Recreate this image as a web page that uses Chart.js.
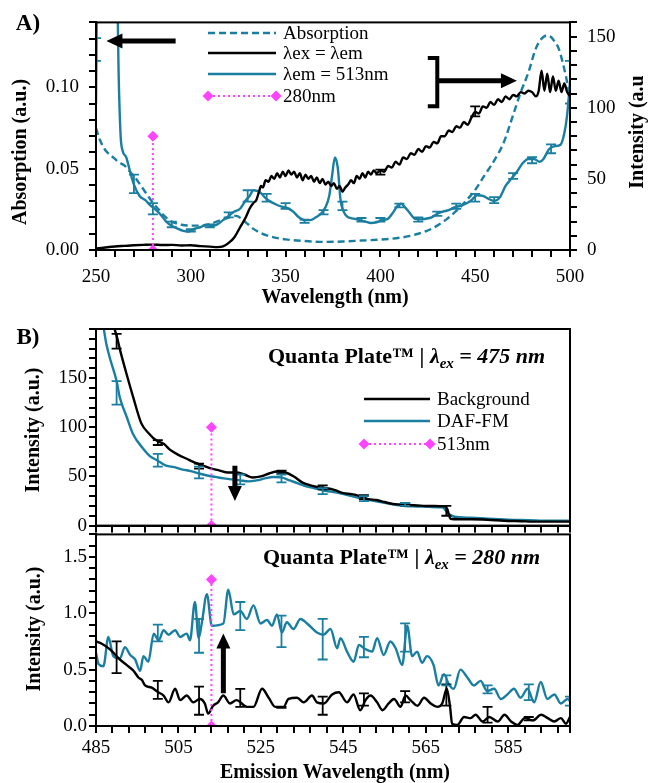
<!DOCTYPE html>
<html>
<head>
<meta charset="utf-8">
<script src="https://cdn.jsdelivr.net/npm/chart.js@4.4.0/dist/chart.umd.min.js"></script>
<style>
  body { margin: 0; background: #fff; width: 649px; height: 783px; position: relative; overflow: hidden; }
  canvas { position: absolute; left: 0; }
</style>
</head>
<body>
<canvas id="chartA" width="649" height="310" style="top:0"></canvas>
<canvas id="chartB1" width="649" height="230" style="top:310px"></canvas>
<canvas id="chartB2" width="649" height="263" style="top:520px"></canvas>
<script>
// ---- Panel A: absorption + excitation scans ----
const absWl = [250,252,254,256,258,260,262,265,268,271,274,277,280,283,286,289,292,295,300,305,310,315,320,324,327,330,333,336,340,345,350,360,370,380,390,400,410,415,420,425,430,435,440,445,450,455,460,465,470,474,478,482,485,488,490,492,494,496,498,500];
const absVal = [0.075,0.068,0.063,0.060,0.058,0.056,0.054,0.052,0.048,0.044,0.039,0.034,0.029,0.025,0.021,0.018,0.0165,0.0155,0.015,0.015,0.016,0.018,0.020,0.021,0.019,0.016,0.013,0.011,0.009,0.0075,0.0065,0.0055,0.005,0.0052,0.0058,0.0064,0.0075,0.0085,0.010,0.012,0.015,0.019,0.024,0.030,0.037,0.046,0.055,0.066,0.083,0.097,0.109,0.124,0.130,0.132,0.131,0.128,0.124,0.116,0.106,0.094];

const exemWl = [250,255,260,265,270,275,280,285,290,295,300,305,310,314,317,320,323,326,329,331,333,334.5,336,337,338,339.5,341,342.5,344,345.5,347,348.5,350,351.5,353,354.5,356,357.5,359,360.5,362,363.5,365,366.5,368,369.5,371,372.5,374,375.5,377,378.5,380,381.5,383,384.5,386,387.5,389,390.5,392,393.5,395,396.5,398,400,402,404,406,408,410,412,414,416,418,420,422,424,426,428,430,432,434,436,438,440,442,444,446,448,450,452,454,456,458,460,462,464,466,468,470,472,474,476,478,480,482,483.5,485,486.5,488,489.5,491,492.5,494,495.5,497,498.5,500];
const exemVal = [1.0,1.8,2.5,2.9,3.3,3.6,3.8,3.5,3.6,3.2,3.3,2.7,2.4,2.0,2.5,5,9,16,23,29,33,35,41,45,44,49,48,52,50,54,51,55,52,56,53,55,51,54,49,53,50,52,48,51,47,50,46,48,45,47,43,45,41,44,46,49,47,52,50,54,51,55,53,56,54,56,55,59,58,62,60,65,64,68,67,71,69,73,72,76,75,80,80,84,83,87,86,90,88,93,97,96,101,100,104,102,106,104,108,106,109,108,111,110,112,111,108,112,126,112,124,111,122,112,119,111,117,111,108];
const exemErrWl = [400, 450];
const exemErrLo = [53, 94];
const exemErrHi = [56.5, 101];

const em513Wl = [250,250.6,261.2,262,263,264,266,268,270,273,276,279,281,284,287,290,293,296,299,302,305,308,311,314,317,320,323,326,329,331,333,335,337,339,342,345,348,351,354,357,360,363,366,369,371,373,374.5,376,377.5,379,381,383,386,389,392,395,398,401,404,407,409,411,413,415.5,418,421,424,427,430,433,436,439,442,445,448,451,454,457,460,463,466,469,472,475,478,481,484,486,489,492,495,497,498.5,500];
const em513Val = [103,175,175,120,80,70,65,55,46,38,35,31,29,25,20,17,15,13.5,13,15,16,17.5,17,18,21,24,27,29,35,38,42,41.5,40,37,34,32,30.5,29.5,27,23,21,21,23,26,30,38,52,65,58,35,26,23,22,21,20,19,19.5,21,22,27,31,32.5,30,26,22,21.5,22,23,25.5,27,28,30,31,32.5,35,38.5,38,36,34.5,37,45,50,55,61,64,64,62,64,71,73,74,82,95,118];
const em513ErrWl = [250,270,280,290,300,310,320,330,340,350,360,370,380,390,400,410,420,430,440,450,460,470,480,490,500];
const em513ErrLo = [133,40,25,16,13,16,23,34,34,29,19,25,28,20,20,30,20,24,29,34,33,50,61,68,103];
const em513ErrHi = [149,53,33,20,14.6,18,26.4,42,39.4,33,21.4,28,34,22.5,22.5,32.6,23,27,32.6,39.4,37.2,54,65.3,74.3,133];

const mark280Wl = [280, 280];
const mark280Val = [0, 0.07];

const aXLabels = [250, 300, 350, 400, 450, 500];
const aYLeftLabels = [0, 0.05, 0.10];
const aYRightLabels = [0, 50, 100, 150];

// ---- Panel B (top): excitation 475 nm ----
const bgTopWl = [485,488.5,489.5,490,491,492.5,494,496,498,499.5,501.5,503,505,507,509,511,513,515,517,519,521,523,525,527,529,531,533,535,537,539,541,543,545,547,549,551,553,555,557,559,561,563,565,567,569.5,570.2,571,573,576,580,584,588,592,596,600];
const bgTopVal = [320,215,200,193,176,153,131,104,93,87,83,77,72,68,64,61,58,56,54,54,52,49,50,53,55,54,50,44,41,39,38,36,33,32,30,27,26,24,22,21.5,21,20.5,20,20,19.5,17,7,6.5,6.5,6,5,4.5,4,4,4];
const bgTopErrWl = [490,500,510,530,540,550,560,570];
const bgTopErrLo = [180,82,58,53,37,27,20,10];
const bgTopErrHi = [195,87,63,56,41,31,23,20];

const dafTopWl = [485,486.8,487.5,488.4,490,490.8,492.5,494,496.5,498,500,502,504,506,508,510,512,514,516,518,520,522,524,526,528,530,532,534,536,538,540,542,544,546,548,550,552,554,556,558,560,563,566,569,570.5,572,576,580,585,590,595,600];
const dafTopVal = [260,203,185,170,147,130,110,93,78,71,66,61,59.5,57,55.5,53,51,49.5,48,47,46,45,46,48,49.5,49,46,43,40,38,36,34.5,33,31,29,27,25.5,24,22.5,21,20,19.5,19,18.5,12,9,8,7,6,5.5,5,5];
const dafTopErrWl = [490,500,510,520,530,540,550,560];
const dafTopErrLo = [123,60,48,42,44,32,25,20];
const dafTopErrHi = [147,73,60,52,52,38,30,23];

const mark513TopWl = [513, 513];
const mark513TopVal = [0, 100];

// ---- Panel B (bottom): excitation 280 nm ----
const dafBotWl = [485,485.6,486.8,488,489.2,490.8,492,493.3,494.5,495.7,496.5,497.7,499,500.2,501.4,502.6,504.2,505.4,507,507.8,509,509.9,510.7,511.9,513.1,515.9,517.1,518.4,520,521.6,523.2,524.9,526.5,527.7,528.9,530.1,531.3,532.9,534.6,536.2,538.6,540.2,541.9,543.5,544.3,545.9,547.5,548.8,550,552,553.2,554.8,556.4,557.7,559.3,560.5,561.7,562.9,564.1,565.3,566.9,568.1,569.4,570.6,571.8,573.4,575.1,576.7,578.3,579.9,581.6,583.2,584.8,586.4,588,589.7,591.3,592.9,594.5,596.2,597.8,599.4,600];
const dafBotVal = [0.65,0.55,0.53,0.79,0.62,0.60,0.70,0.63,0.59,0.49,0.62,0.57,0.82,0.76,0.85,0.81,0.85,0.79,0.82,0.76,1.10,0.78,0.92,1.17,0.89,0.91,1.21,0.99,1.02,0.95,1.07,0.91,0.94,0.89,0.99,0.83,0.92,0.86,0.95,0.91,0.83,0.81,0.86,0.69,0.78,0.66,0.57,0.72,0.69,0.66,0.78,0.63,0.75,0.69,0.54,0.89,0.62,0.66,0.56,0.62,0.54,0.36,0.46,0.37,0.33,0.50,0.43,0.36,0.40,0.31,0.33,0.24,0.28,0.33,0.25,0.33,0.21,0.39,0.24,0.28,0.20,0.24,0.22];
const dafBotErrWl = [500,510,520,530,540,550,560,570,580,590,600];
const dafBotErrLo = [0.75,0.65,0.85,0.70,0.59,0.61,0.66,0.36,0.29,0.23,0.18];
const dafBotErrHi = [0.90,0.95,1.10,0.98,0.95,0.79,0.91,0.45,0.36,0.37,0.26];

const bgBotWl = [485,486.4,488.4,490.8,492.5,494.1,495.3,496.1,496.9,498.5,500.1,501.4,502.6,504.2,505.4,507,508.6,510.2,511.4,512.2,513.4,514.6,515.9,517.5,519.1,521.6,523.2,525.3,526.9,528.5,530.5,531.7,533.8,535.4,537.4,538.6,540.3,542.3,543.9,545.9,547.5,549.1,550.4,551.6,553.2,554.5,556,557.3,558.9,560.1,561.3,563,564.6,566.2,567.8,569,570.1,570.9,571.4,572.7,574.3,575.9,577.1,578.8,580.4,582.5,584.1,585.7,587.3,589,591,593,594.6,596.2,597.8,599,600];
const bgBotVal = [0.75,0.73,0.68,0.59,0.54,0.49,0.43,0.41,0.36,0.34,0.30,0.27,0.21,0.33,0.23,0.27,0.21,0.24,0.20,0.11,0.18,0.21,0.27,0.20,0.23,0.17,0.17,0.33,0.25,0.17,0.17,0.24,0.25,0.21,0.27,0.21,0.20,0.28,0.30,0.21,0.28,0.14,0.23,0.27,0.21,0.14,0.20,0.24,0.17,0.27,0.23,0.18,0.25,0.20,0.17,0.20,0.33,0.17,0.02,0.01,0.08,0.07,0.10,0.04,0.08,0.04,0.10,0.04,0.01,0.07,0.05,0.10,0.07,0.04,0.07,0.02,0.08];
const bgBotErrWl = [490,500,510,520,530,540,550,560,570,580,590];
const bgBotErrLo = [0.47,0.24,0.10,0.17,0.16,0.10,0.18,0.21,0.18,0.03,0.05];
const bgBotErrHi = [0.75,0.40,0.35,0.33,0.17,0.26,0.29,0.31,0.37,0.17,0.08];

const mark513BotWl = [513, 513];
const mark513BotVal = [0, 1.3];

const bXLabels = [485, 505, 525, 545, 565, 585];
const bTopYLabels = [0, 50, 100, 150];
const bBotYLabels = [0, 0.5, 1.0, 1.5];

// ---- styles ----
const TEAL = '#1a7ea1';
const PINK = '#ff44ff';
const FONT = '"Liberation Serif", "Times New Roman", serif';
const LINE_W = 2.4;
const TICK_LEN = 6;

Chart.defaults.font.family = FONT;
Chart.defaults.font.size = 19;
Chart.defaults.color = '#000';

const pts = (xs, ys) => xs.map((x, i) => ({ x: x, y: ys[i] }));
const near = (list, v) => list.some(l => Math.abs(l - v) < 1e-6);

function makeTicks(min, max, step) {
    const out = [];
    for (let i = 0; min + i * step <= max + 1e-9; i++) out.push(Math.round((min + i * step) * 1e6) / 1e6);
    if (out[out.length - 1] < max - 1e-9) out.push(max);
    return out;
}

// pozice značek pro každou osu (id grafu -> id osy -> hodnoty)
const tickMarks = {};

// osa s vedlejšími značkami, popisky jen u hlavních hodnot
function axis(chartId, id, position, min, max, step, labels, fmt, size, pad) {
    tickMarks[chartId] = tickMarks[chartId] || {};
    tickMarks[chartId][id] = { position: position, values: makeTicks(min, max, step) };
    return {
        type: 'linear',
        position: position,
        min: min,
        max: max,
        afterBuildTicks: s => { s.ticks = makeTicks(min, max, step).map(v => ({ value: v })); },
        afterFit: s => { if (s.isHorizontal()) s.height = size; else s.width = size; },
        ticks: {
            autoSkip: false,
            maxRotation: 0,
            padding: pad,
            callback: v => near(labels, v) ? fmt(v) : ''
        },
        grid: { display: true, drawOnChartArea: false, drawTicks: true, tickLength: TICK_LEN, color: 'rgba(0,0,0,0)' },
        border: { display: true, color: '#000', width: 2 }
    };
}

function lineSet(data, color, yAxis, extra) {
    return Object.assign({
        data: data,
        borderColor: color,
        backgroundColor: color,
        borderWidth: LINE_W,
        pointRadius: 0,
        fill: false,
        cubicInterpolationMode: 'monotone',
        yAxisID: yAxis
    }, extra || {});
}

function markerSet(data, yAxis) {
    return {
        data: data,
        borderColor: PINK,
        backgroundColor: PINK,
        borderWidth: 2,
        borderDash: [2, 3],
        pointStyle: 'rectRot',
        pointRadius: 5.5,
        pointBorderWidth: 0,
        pointBackgroundColor: PINK,
        fill: false,
        yAxisID: yAxis
    };
}

// chybové úsečky pro datasety, které mají errWl
const errorBars = {
    id: 'errorBars',
    afterDatasetsDraw(chart) {
        const ctx = chart.ctx, area = chart.chartArea;
        ctx.save();
        ctx.beginPath();
        ctx.rect(area.left, area.top - 1, area.right - area.left, area.bottom - area.top + 2);
        ctx.clip();
        chart.data.datasets.forEach(ds => {
            if (!ds.errWl) return;
            const xs = chart.scales.x, ys = chart.scales[ds.yAxisID];
            ctx.strokeStyle = ds.borderColor;
            ctx.lineWidth = 1.8;
            ds.errWl.forEach((w, i) => {
                const px = xs.getPixelForValue(w);
                const p1 = ys.getPixelForValue(ds.errLo[i]);
                const p2 = ys.getPixelForValue(ds.errHi[i]);
                ctx.beginPath();
                ctx.moveTo(px, p1); ctx.lineTo(px, p2);
                ctx.moveTo(px - 5, p1); ctx.lineTo(px + 5, p1);
                ctx.moveTo(px - 5, p2); ctx.lineTo(px + 5, p2);
                ctx.stroke();
            });
        });
        ctx.restore();
    }
};

// rámeček grafu + značky na osách směrem ven
const frame = {
    id: 'frame',
    afterDraw(chart) {
        const a = chart.chartArea, ctx = chart.ctx;
        ctx.save();
        ctx.setLineDash([]);
        ctx.strokeStyle = '#000';
        ctx.lineWidth = 2;
        ctx.strokeRect(a.left, a.top, a.right - a.left, a.bottom - a.top);
        ctx.fillStyle = '#000';
        const marks = tickMarks[chart.canvas.id];
        Object.keys(marks).forEach(id => {
            const s = chart.scales[id], m = marks[id];
            m.values.forEach(v => {
                const p = Math.round(s.getPixelForValue(v));
                if (m.position === 'bottom') ctx.fillRect(p - 1, a.bottom, 2, TICK_LEN + 1);
                else if (m.position === 'left') ctx.fillRect(a.left - TICK_LEN - 1, p - 1, TICK_LEN + 1, 2);
                else ctx.fillRect(a.right, p - 1, TICK_LEN + 1, 2);
            });
        });
        ctx.restore();
    }
};

function drawArrow(ctx, x1, y1, x2, y2, shaft, headW, headL) {
    const ang = Math.atan2(y2 - y1, x2 - x1), len = Math.hypot(x2 - x1, y2 - y1);
    ctx.save();
    ctx.translate(x1, y1);
    ctx.rotate(ang);
    ctx.fillStyle = '#000';
    ctx.beginPath();
    ctx.moveTo(0, -shaft / 2);
    ctx.lineTo(len - headL, -shaft / 2);
    ctx.lineTo(len - headL, -headW / 2);
    ctx.lineTo(len, 0);
    ctx.lineTo(len - headL, headW / 2);
    ctx.lineTo(len - headL, shaft / 2);
    ctx.lineTo(0, shaft / 2);
    ctx.closePath();
    ctx.fill();
    ctx.restore();
}

function diamond(ctx, x, y, r) {
    ctx.beginPath();
    ctx.moveTo(x, y - r); ctx.lineTo(x + r, y); ctx.lineTo(x, y + r); ctx.lineTo(x - r, y);
    ctx.closePath();
    ctx.fill();
}

function legendRow(ctx, x1, x2, y, color, dash, isMarker, text) {
    ctx.save();
    ctx.strokeStyle = color;
    ctx.lineWidth = isMarker ? 2 : LINE_W;
    ctx.setLineDash(dash);
    ctx.beginPath(); ctx.moveTo(x1, y); ctx.lineTo(x2, y); ctx.stroke();
    if (isMarker) {
        ctx.setLineDash([]);
        ctx.fillStyle = color;
        diamond(ctx, x1, y, 5.5);
        diamond(ctx, x2, y, 5.5);
    }
    ctx.fillStyle = '#000';
    ctx.font = '19px ' + FONT;
    ctx.textBaseline = 'middle';
    ctx.fillText(text, x2 + 7, y + 1);
    ctx.restore();
}

function textAt(ctx, text, x, y, font, rot, align) {
    ctx.save();
    ctx.translate(x, y);
    if (rot) ctx.rotate(rot);
    ctx.font = font;
    ctx.fillStyle = '#000';
    ctx.textAlign = align || 'center';
    ctx.textBaseline = 'middle';
    ctx.fillText(text, 0, 0);
    ctx.restore();
}

function quantaTitle(ctx, x, y, nm) {
    const parts = [
        { t: 'Quanta Plate\u2122 | ', f: 'bold 22px ' + FONT, dy: 0 },
        { t: '\u03bb', f: 'italic bold 22px ' + FONT, dy: 0 },
        { t: 'ex', f: 'italic bold 15px ' + FONT, dy: 5 },
        { t: ' = ' + nm + ' nm', f: 'italic bold 22px ' + FONT, dy: 0 }
    ];
    ctx.save();
    ctx.fillStyle = '#000';
    ctx.textBaseline = 'alphabetic';
    let cx = x;
    parts.forEach(p => {
        ctx.font = p.f;
        ctx.fillText(p.t, cx, y + p.dy);
        cx += ctx.measureText(p.t).width;
    });
    ctx.restore();
}

const baseOptions = (padding, scales) => ({
    responsive: false,
    animation: false,
    layout: { padding: padding },
    plugins: { legend: { display: false }, tooltip: { enabled: false } },
    scales: scales
});

// ---- Graf A ----
new Chart(document.getElementById('chartA'), {
    type: 'line',
    data: {
        datasets: [
            markerSet(pts(mark280Wl, mark280Val), 'yL'),
            lineSet(pts(exemWl, exemVal), '#000', 'yR', { errWl: exemErrWl, errLo: exemErrLo, errHi: exemErrHi }),
            lineSet(pts(em513Wl, em513Val), TEAL, 'yR', { errWl: em513ErrWl, errLo: em513ErrLo, errHi: em513ErrHi }),
            lineSet(pts(absWl, absVal), TEAL, 'yL', { borderDash: [7, 4] })
        ]
    },
    options: baseOptions({ top: 13, left: 0, right: 0, bottom: 0 }, {
        x: axis('chartA', 'x', 'bottom', 250, 500, 10, aXLabels, v => String(v), 60, 10),
        yL: axis('chartA', 'yL', 'left', 0, 0.14, 0.01, aYLeftLabels, v => v.toFixed(2), 96, 11),
        yR: axis('chartA', 'yR', 'right', 0, 160, 10, aYRightLabels, v => String(v), 79, 11)
    }),
    plugins: [errorBars, frame, {
        id: 'decoA',
        afterDraw(chart) {
            const ctx = chart.ctx, xs = chart.scales.x, yr = chart.scales.yR;
            textAt(ctx, 'A)', 28, 24, 'bold 23px ' + FONT);
            textAt(ctx, 'Absorption (a.u.)', 21, 152, 'bold 20px ' + FONT, -Math.PI / 2);
            textAt(ctx, 'Intensity (a.u', 638, 132, 'bold 20px ' + FONT, -Math.PI / 2);
            textAt(ctx, 'Wavelength (nm)', 335, 298, 'bold 20px ' + FONT);

            legendRow(ctx, 208, 276, 33, TEAL, [7, 4], false, 'Absorption');
            legendRow(ctx, 208, 276, 53, '#000', [], false, '\u03bbex = \u03bbem');
            legendRow(ctx, 208, 276, 74, TEAL, [], false, '\u03bbem = 513nm');
            legendRow(ctx, 208, 276, 96, PINK, [2, 3], true, '280nm');

            // šipka k levé ose
            drawArrow(ctx, xs.getPixelForValue(292), yr.getPixelForValue(147),
                      xs.getPixelForValue(255.5), yr.getPixelForValue(147), 5, 15, 16);
            // závorka a šipka k pravé ose
            ctx.save();
            ctx.strokeStyle = '#000';
            ctx.lineWidth = 4;
            ctx.beginPath();
            ctx.moveTo(xs.getPixelForValue(425), yr.getPixelForValue(135));
            ctx.lineTo(xs.getPixelForValue(430), yr.getPixelForValue(135));
            ctx.lineTo(xs.getPixelForValue(430), yr.getPixelForValue(101));
            ctx.lineTo(xs.getPixelForValue(425), yr.getPixelForValue(101));
            ctx.stroke();
            ctx.restore();
            drawArrow(ctx, xs.getPixelForValue(430), yr.getPixelForValue(119),
                      xs.getPixelForValue(472), yr.getPixelForValue(119), 5, 15, 16);
        }
    }]
});

// ---- Graf B nahoře ----
new Chart(document.getElementById('chartB1'), {
    type: 'line',
    data: {
        datasets: [
            markerSet(pts(mark513TopWl, mark513TopVal), 'y'),
            lineSet(pts(bgTopWl, bgTopVal), '#000', 'y', { errWl: bgTopErrWl, errLo: bgTopErrLo, errHi: bgTopErrHi }),
            lineSet(pts(dafTopWl, dafTopVal), TEAL, 'y', { errWl: dafTopErrWl, errLo: dafTopErrLo, errHi: dafTopErrHi })
        ]
    },
    options: baseOptions({ top: 19, left: 0, right: 79, bottom: 0 }, {
        x: axis('chartB1', 'x', 'bottom', 485, 600, 4, [], v => '', 10, 0),
        y: axis('chartB1', 'y', 'left', 0, 200, 10, bTopYLabels, v => String(v), 96, 3)
    }),
    plugins: [errorBars, frame, {
        id: 'decoB1',
        afterDraw(chart) {
            const ctx = chart.ctx, xs = chart.scales.x, ys = chart.scales.y;
            textAt(ctx, 'B)', 28, 28, 'bold 23px ' + FONT);
            textAt(ctx, 'Intensity (a.u.)', 34, 120, 'bold 20px ' + FONT, -Math.PI / 2);
            quantaTitle(ctx, 268, 53, '475');
            legendRow(ctx, 364, 430, 89, '#000', [], false, 'Background');
            legendRow(ctx, 364, 430, 111, TEAL, [], false, 'DAF-FM');
            legendRow(ctx, 364, 430, 134, PINK, [2, 3], true, '513nm');
            drawArrow(ctx, xs.getPixelForValue(518.7), ys.getPixelForValue(61),
                      xs.getPixelForValue(518.7), ys.getPixelForValue(25), 5, 14, 15);
        }
    }]
});

// ---- Graf B dole ----
new Chart(document.getElementById('chartB2'), {
    type: 'line',
    data: {
        datasets: [
            markerSet(pts(mark513BotWl, mark513BotVal), 'y'),
            lineSet(pts(bgBotWl, bgBotVal), '#000', 'y', { errWl: bgBotErrWl, errLo: bgBotErrLo, errHi: bgBotErrHi }),
            lineSet(pts(dafBotWl, dafBotVal), TEAL, 'y', { errWl: dafBotErrWl, errLo: dafBotErrLo, errHi: dafBotErrHi })
        ]
    },
    options: baseOptions({ top: 10, left: 0, right: 79, bottom: 0 }, {
        x: axis('chartB2', 'x', 'bottom', 485, 600, 4, bXLabels, v => String(v), 57, 5),
        y: axis('chartB2', 'y', 'left', 0, 1.7, 0.1, bBotYLabels, v => v.toFixed(1), 96, 3)
    }),
    plugins: [errorBars, frame, {
        id: 'decoB2',
        afterDraw(chart) {
            const ctx = chart.ctx, xs = chart.scales.x, ys = chart.scales.y;
            textAt(ctx, 'Intensity (a.u.)', 35, 109, 'bold 20px ' + FONT, -Math.PI / 2);
            textAt(ctx, 'Emission Wavelength (nm)', 335, 253, 'bold 20px ' + FONT);
            quantaTitle(ctx, 263, 44, '280');
            drawArrow(ctx, xs.getPixelForValue(515.9), ys.getPixelForValue(0.29),
                      xs.getPixelForValue(515.9), ys.getPixelForValue(0.82), 5, 14, 15);
        }
    }]
});
</script>
</body>
</html>
